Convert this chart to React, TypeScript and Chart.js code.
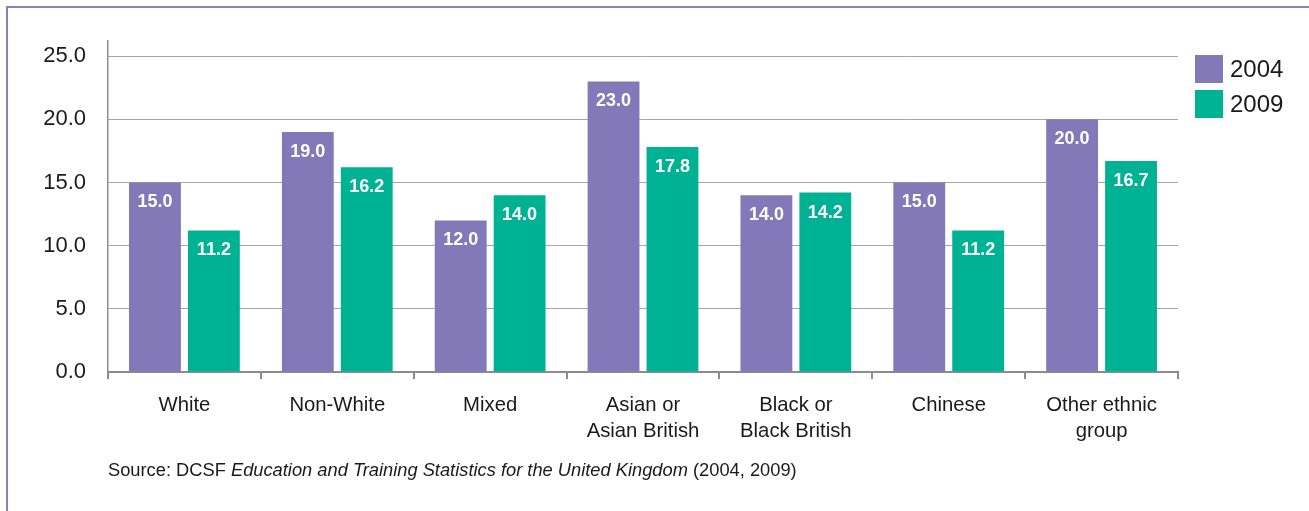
import React, { useEffect, useRef } from "react";
import { Chart, registerables } from "chart.js";

Chart.register(...registerables);

const categories: (string | string[])[] = [
  "White",
  "Non-White",
  "Mixed",
  ["Asian or", "Asian British"],
  ["Black or", "Black British"],
  "Chinese",
  ["Other ethnic", "group"],
];
const series2004 = [15.0, 19.0, 12.0, 23.0, 14.0, 15.0, 20.0];
const series2009 = [11.2, 16.2, 14.0, 17.8, 14.2, 11.2, 16.7];
const yTicks = [0, 5, 10, 15, 20, 25];
const seriesNames = ["2004", "2009"];
const colors = ["#8378B8", "#00B294"];

const FONT = "'Liberation Sans', Arial, Helvetica, sans-serif";

const barLabelPlugin = {
  id: "barLabels",
  afterDatasetsDraw(chart: any) {
    const ctx = chart.ctx;
    ctx.save();
    ctx.font = `bold 18px ${FONT}`;
    ctx.fillStyle = "#ffffff";
    ctx.textAlign = "center";
    ctx.textBaseline = "middle";
    chart.data.datasets.forEach((ds: any, i: number) => {
      const meta = chart.getDatasetMeta(i);
      meta.data.forEach((bar: any, j: number) => {
        ctx.fillText(Number(ds.data[j]).toFixed(1), bar.x, bar.y + 20);
      });
    });
    ctx.restore();
  },
};

const legendPlugin = {
  id: "customLegend",
  afterDraw(chart: any) {
    const ctx = chart.ctx;
    const x0 = chart.chartArea.right + 17;
    const y0 = 55;
    ctx.save();
    ctx.font = `24px ${FONT}`;
    ctx.textBaseline = "middle";
    ctx.textAlign = "left";
    chart.data.datasets.forEach((ds: any, i: number) => {
      const y = y0 + i * 35;
      ctx.fillStyle = ds.backgroundColor;
      ctx.fillRect(x0, y, 28, 28);
      ctx.fillStyle = "#1a1a1a";
      ctx.fillText(ds.label, x0 + 35, y + 15);
    });
    ctx.restore();
  },
};

function ChartView() {
  const ref = useRef<HTMLCanvasElement>(null);
  useEffect(() => {
    if (!ref.current) return;
    const chart = new Chart(ref.current, {
      type: "bar",
      data: {
        labels: categories,
        datasets: [
          { label: seriesNames[0], data: series2004, backgroundColor: colors[0] },
          { label: seriesNames[1], data: series2009, backgroundColor: colors[1] },
        ],
      },
      plugins: [barLabelPlugin, legendPlugin],
      options: {
        animation: false,
        responsive: false,
        maintainAspectRatio: false,
        layout: { padding: { top: 41, right: 131, bottom: 0, left: 0 } },
        datasets: {
          bar: { barPercentage: 0.88, categoryPercentage: 0.771 },
        },
        plugins: {
          legend: { display: false },
          tooltip: { enabled: false },
        },
        scales: {
          x: {
            grid: {
              display: true,
              offset: true,
              drawOnChartArea: false,
              drawTicks: true,
              tickLength: 7,
              color: "#8c8c8c",
              lineWidth: 2,
            },
            border: { display: true, color: "#8c8c8c", width: 2 },
            ticks: {
              font: { family: FONT, size: 20.3, lineHeight: 26 / 20.3 },
              color: "#1a1a1a",
              padding: 13,
              maxRotation: 0,
            },
            afterFit: (scale: any) => {
              scale.height = 139;
            },
          },
          y: {
            min: 0,
            max: 26.2,
            grid: {
              color: "#a6a6a6",
              lineWidth: 1,
              drawTicks: false,
            },
            border: { display: true, color: "#8c8c8c", width: 1.5 },
            ticks: {
              stepSize: 5,
              font: { family: FONT, size: 22 },
              color: "#1a1a1a",
              padding: 22,
              callback: (v: any) => Number(v).toFixed(1),
            },
            afterBuildTicks: (axis: any) => {
              axis.ticks = yTicks.map((v) => ({ value: v }));
            },
            afterFit: (scale: any) => {
              scale.width = 108;
            },
          },
        },
      },
    });
    return () => chart.destroy();
  }, []);
  return <canvas ref={ref} width={1309} height={511} style={{ position: "absolute", left: 0, top: 0 }} />;
}

export default function App() {
  useEffect(() => {
    document.body.style.margin = "0";
  }, []);
  return (
    <div style={{ position: "relative", width: 1309, height: 511, background: "#fff", overflow: "hidden" }}>
      <div
        style={{
          position: "absolute",
          left: 6,
          top: 6,
          width: 1400,
          height: 600,
          borderTop: "2px solid #8a80c0",
          borderLeft: "2px solid #8a80c0",
        }}
      />
      <ChartView />
      <div
        style={{
          position: "absolute",
          left: 108,
          top: 459,
          fontFamily: FONT,
          fontSize: 18.3,
          lineHeight: "22px",
          color: "#1a1a1a",
          whiteSpace: "nowrap",
        }}
      >
        Source: DCSF <i>Education and Training Statistics for the United Kingdom</i> (2004, 2009)
      </div>
    </div>
  );
}
